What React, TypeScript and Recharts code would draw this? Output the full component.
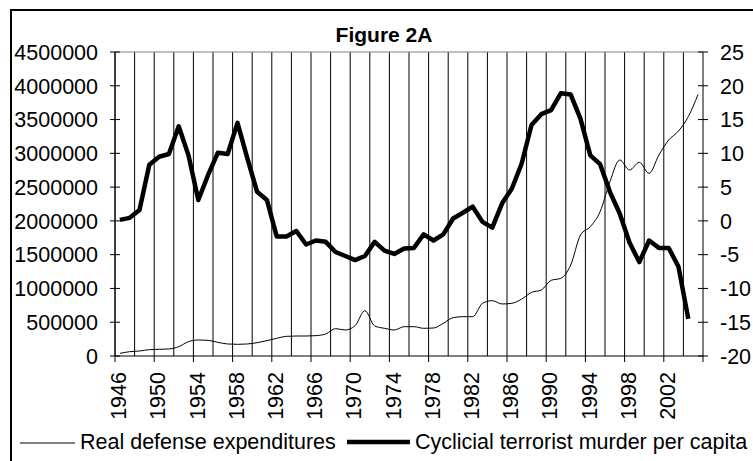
import * as React from 'react';
import { LineChart, Line, XAxis, YAxis, ReferenceLine } from 'recharts';

// Figure 2A: real defense expenditures vs cyclical terrorist murder per capita

const years = [
  1946, 1947, 1948, 1949, 1950, 1951, 1952, 1953, 1954, 1955,
  1956, 1957, 1958, 1959, 1960, 1961, 1962, 1963, 1964, 1965,
  1966, 1967, 1968, 1969, 1970, 1971, 1972, 1973, 1974, 1975,
  1976, 1977, 1978, 1979, 1980, 1981, 1982, 1983, 1984, 1985,
  1986, 1987, 1988, 1989, 1990, 1991, 1992, 1993, 1994, 1995,
  1996, 1997, 1998, 1999, 2000, 2001, 2002, 2003, 2004, 2005,
];

const defenseSpending = [
  39000, 64000, 74000, 94000, 99000, 104000, 138000, 212000, 237000, 232000,
  202000, 178000, 173000, 178000, 197000, 227000, 262000, 291000, 296000, 296000,
  301000, 326000, 405000, 385000, 449000, 671000, 444000, 410000, 385000, 434000,
  434000, 410000, 414000, 484000, 567000, 582000, 582000, 780000, 819000, 770000,
  780000, 844000, 942000, 977000, 1120000, 1150000, 1347000, 1791000, 1914000, 2136000,
  2580000, 2901000, 2753000, 2867000, 2704000, 2975000, 3197000, 3330000, 3543000, 3873000,
];

// ends in 2004
const terrorMurder = [
  0.15, 0.45, 1.6, 8.3, 9.5, 9.9, 14.0, 9.7, 3.1, 6.8,
  10.1, 9.9, 14.5, 9.3, 4.3, 3.1, -2.3, -2.3, -1.5, -3.5,
  -2.9, -3.1, -4.6, -5.2, -5.8, -5.2, -3.1, -4.4, -4.9, -4.1,
  -4.0, -2.0, -2.9, -2.0, 0.35, 1.2, 2.1, -0.15, -1.0, 2.6,
  4.8, 8.5, 14.2, 15.8, 16.4, 18.9, 18.7, 15.1, 9.7, 8.4,
  4.3, 1.1, -3.2, -6.1, -2.9, -4.0, -4.0, -6.8, -14.5,
];

const leftTicks = [0, 500000, 1000000, 1500000, 2000000, 2500000, 3000000, 3500000, 4000000, 4500000];
const rightTicks = [-20, -15, -10, -5, 0, 5, 10, 15, 20, 25];

const FONT = '"Liberation Sans", Arial, sans-serif';

const data = years.map((year, i) => ({
  year,
  defense: defenseSpending[i],
  terror: i < terrorMurder.length ? terrorMurder[i] : null,
}));

// category boundaries: gridline every 2 years, labelled tick every 4 years
const gridYears = years.filter((_, i) => i % 2 === 0).map((y) => y - 0.5);
const xTicks = [...years.filter((_, i) => i % 4 === 0).map((y) => y - 0.5), years[years.length - 1] + 0.5];

const LeftTick = ({ x, y, payload }: any) => (
  <g>
    <line x1={x + 12} x2={x + 22} y1={y} y2={y} stroke="#000" />
    <text x={x} y={y} dy="0.36em" textAnchor="end" fontFamily={FONT} fontSize={21.5} fill="#000">
      {payload.value}
    </text>
  </g>
);

const RightTick = ({ x, y, payload }: any) => (
  <g>
    <line x1={x - 22} x2={x - 12} y1={y} y2={y} stroke="#000" />
    <text x={x} y={y} dy="0.36em" textAnchor="start" fontFamily={FONT} fontSize={21.5} fill="#000">
      {payload.value}
    </text>
  </g>
);

const YearTick = ({ x, y, payload }: any) => {
  const label = payload.value + 0.5;
  if (label > years[years.length - 1]) return null;
  return (
    <text
      transform={`translate(${x + 3.5},${y + 10}) rotate(-90)`}
      dy="0.36em"
      textAnchor="end"
      fontFamily={FONT}
      fontSize={21.5}
      fill="#000"
    >
      {label}
    </text>
  );
};

export default function App() {
  return (
    <div style={{ position: 'absolute', left: 0, top: 0, width: 753, height: 461, background: '#fff', overflow: 'hidden' }}>
      <LineChart
        width={753}
        height={461}
        data={data}
        margin={{ top: 52, right: 0, bottom: 45, left: 0 }}
      >
        <XAxis
          dataKey="year"
          type="number"
          domain={[1945.5, 2005.5]}
          ticks={xTicks}
          interval={0}
          height={60}
          tickSize={6}
          tickMargin={0}
          tick={<YearTick />}
          axisLine={{ stroke: '#000' }}
          tickLine={{ stroke: '#000' }}
        />
        <YAxis
          yAxisId="left"
          domain={[0, 4500000]}
          ticks={leftTicks}
          interval={0}
          width={115}
          tickSize={5}
          tickMargin={12}
          tick={<LeftTick />}
          tickLine={false}
          axisLine={{ stroke: '#000' }}
        />
        <YAxis
          yAxisId="right"
          orientation="right"
          domain={[-20, 25]}
          ticks={rightTicks}
          interval={0}
          width={50}
          tickSize={5}
          tickMargin={12}
          tick={<RightTick />}
          tickLine={false}
          axisLine={{ stroke: '#000' }}
        />
        {gridYears.map((g) => (
          <ReferenceLine key={g} x={g} yAxisId="left" stroke="#000" strokeWidth={1} />
        ))}
        <ReferenceLine y={4500000} yAxisId="left" stroke="#808080" strokeWidth={1} />
        <Line
          yAxisId="left"
          type="monotone"
          dataKey="defense"
          stroke="#000"
          strokeWidth={1}
          dot={false}
          isAnimationActive={false}
        />
        <Line
          yAxisId="right"
          type="linear"
          dataKey="terror"
          stroke="#000"
          strokeWidth={4.5}
          strokeLinejoin="round"
          dot={false}
          connectNulls={false}
          isAnimationActive={false}
        />
      </LineChart>
      {/* outer chart frame, runs off the right and bottom of the picture */}
      <div
        style={{
          position: 'absolute',
          left: 10,
          top: 9,
          width: 760,
          height: 470,
          border: '2px solid #000',
          pointerEvents: 'none',
        }}
      />
      <svg
        width={753}
        height={461}
        style={{ position: 'absolute', left: 0, top: 0, pointerEvents: 'none' }}
      >
        <text x={384} y={42} textAnchor="middle" fontFamily={FONT} fontSize={21} fontWeight="bold" fill="#000">
          Figure 2A
        </text>
        <line x1={20} x2={75} y1={443} y2={443} stroke="#000" strokeWidth={1} />
        <text x={80} y={449} fontFamily={FONT} fontSize={21.5} fill="#000">
          Real defense expenditures
        </text>
        <line x1={347} x2={410} y1={442} y2={442} stroke="#000" strokeWidth={4.5} />
        <text x={415} y={449} fontFamily={FONT} fontSize={21.5} fill="#000">
          Cyclicial terrorist murder per capita
        </text>
      </svg>
    </div>
  );
}
